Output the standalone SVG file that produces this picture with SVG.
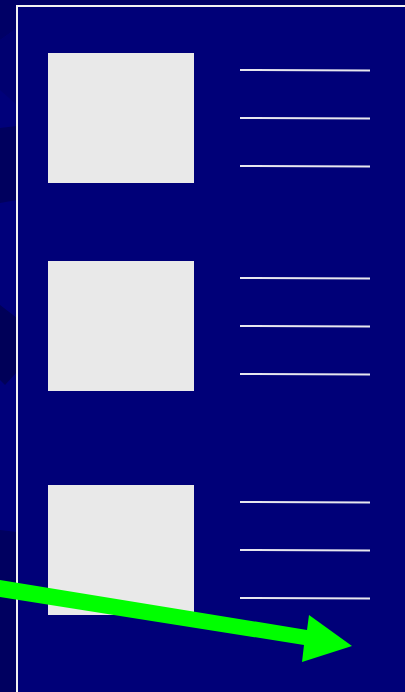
<svg xmlns="http://www.w3.org/2000/svg" width="405" height="692" viewBox="0 0 405 692">
<style>
.box{fill:#e9e9e9}
.ln{stroke:#e6e6ee;stroke-width:2;fill:none}
.sh{stroke:none}
</style>
<rect x="0" y="0" width="405" height="692" fill="#00007a"/>
<g id="bg-shapes">
<polygon class="sh" points="0,0 405,0 405,5 17,5 17,28 0,40" fill="#000066"/>
<polygon class="sh" points="0,40 17,28 17,105 0,90" fill="#000070"/>
<polygon class="sh" points="0,128 17,126 17,200 0,203" fill="#00005e"/>
<polygon class="sh" points="0,305 17,318 17,372 5,385 0,380" fill="#000058"/>
<polygon class="sh" points="0,530 17,532 17,692 0,692" fill="#000060"/>
</g>
<rect x="17" y="6" width="400" height="700" fill="#000078" stroke="#f2f2f2" stroke-width="2"/>
<g id="node1"><rect class="box" x="48" y="53" width="146" height="130"/></g>
<g id="node2"><rect class="box" x="48" y="261" width="146" height="130"/></g>
<g id="node3"><rect class="box" x="48" y="485" width="146" height="130"/></g>
<g id="lines">
<line class="ln" x1="240" y1="70" x2="370" y2="70.5"/>
<line class="ln" x1="240" y1="118" x2="370" y2="118.5"/>
<line class="ln" x1="240" y1="166" x2="370" y2="166.5"/>
<line class="ln" x1="240" y1="278" x2="370" y2="278.5"/>
<line class="ln" x1="240" y1="326" x2="370" y2="326.5"/>
<line class="ln" x1="240" y1="374" x2="370" y2="374.5"/>
<line class="ln" x1="240" y1="502" x2="370" y2="502.5"/>
<line class="ln" x1="240" y1="550" x2="370" y2="550.5"/>
<line class="ln" x1="240" y1="598" x2="370" y2="598.5"/>
</g>
<g id="connectors">
<polygon points="0,580 307,630 309,615 352,646 302,662 304,645 0,597" fill="#00ff00"/>
</g>
</svg>
